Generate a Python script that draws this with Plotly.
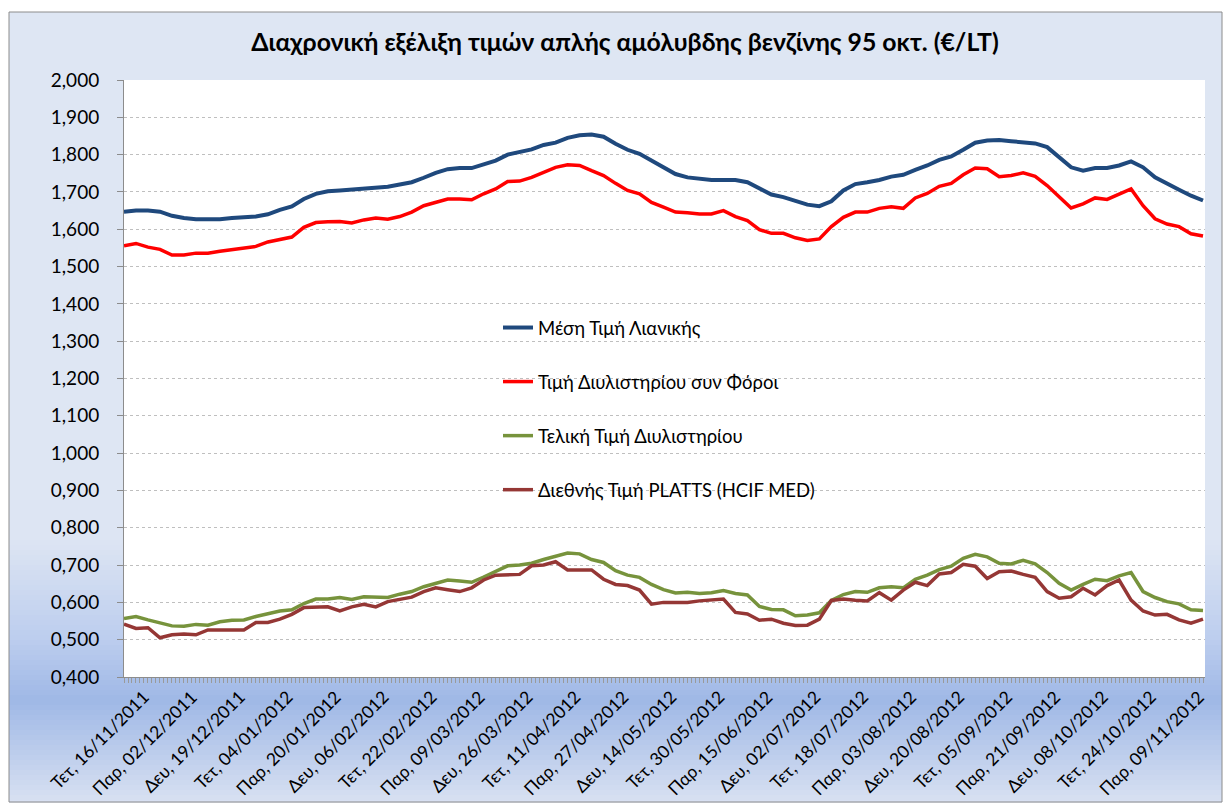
import plotly.graph_objects as go

# ---------------- data ----------------
# The chart has 271 daily categories (index 0 .. 270); a date label is shown every 12th one.
n_categories = 271
# values were read at every third category
sample_pos = list(range(0, n_categories, 3))

retail_avg = [1.647, 1.650, 1.650, 1.647, 1.636, 1.630, 1.627, 1.626, 1.627, 1.630, 1.633, 1.634, 1.640, 1.652, 1.661,
              1.681, 1.695, 1.702, 1.704, 1.707, 1.708, 1.713, 1.714, 1.720, 1.726, 1.738, 1.751, 1.761, 1.764, 1.764,
              1.775, 1.784, 1.800, 1.807, 1.814, 1.826, 1.832, 1.845, 1.852, 1.854, 1.848, 1.829, 1.813, 1.802, 1.784,
              1.766, 1.748, 1.739, 1.735, 1.732, 1.732, 1.732, 1.726, 1.708, 1.693, 1.686, 1.675, 1.666, 1.662, 1.675,
              1.704, 1.721, 1.726, 1.732, 1.741, 1.746, 1.759, 1.771, 1.786, 1.795, 1.813, 1.832, 1.838, 1.839, 1.836,
              1.832, 1.830, 1.820, 1.793, 1.766, 1.757, 1.764, 1.764, 1.771, 1.782, 1.766, 1.739, 1.721, 1.706, 1.690,
              1.677]
refinery_taxes = [1.556, 1.562, 1.552, 1.546, 1.531, 1.531, 1.536, 1.536, 1.541, 1.546, 1.549, 1.554, 1.566, 1.573, 1.579,
                  1.605, 1.618, 1.620, 1.621, 1.617, 1.625, 1.630, 1.627, 1.634, 1.646, 1.663, 1.672, 1.681, 1.681, 1.679,
                  1.695, 1.708, 1.728, 1.729, 1.739, 1.752, 1.766, 1.773, 1.771, 1.757, 1.744, 1.723, 1.704, 1.695, 1.672,
                  1.659, 1.646, 1.644, 1.641, 1.641, 1.650, 1.634, 1.623, 1.599, 1.589, 1.589, 1.577, 1.570, 1.574, 1.607,
                  1.632, 1.646, 1.646, 1.656, 1.660, 1.656, 1.684, 1.696, 1.715, 1.723, 1.746, 1.764, 1.762, 1.741, 1.744,
                  1.751, 1.742, 1.717, 1.688, 1.657, 1.668, 1.684, 1.680, 1.695, 1.708, 1.663, 1.628, 1.614, 1.607, 1.588,
                  1.582]
refinery_final = [0.557, 0.562, 0.553, 0.546, 0.537, 0.536, 0.541, 0.539, 0.548, 0.552, 0.553, 0.562, 0.570, 0.577, 0.580,
                  0.597, 0.609, 0.609, 0.613, 0.608, 0.615, 0.615, 0.613, 0.622, 0.629, 0.642, 0.652, 0.660, 0.657, 0.654,
                  0.668, 0.682, 0.698, 0.700, 0.705, 0.715, 0.724, 0.732, 0.730, 0.715, 0.707, 0.685, 0.673, 0.667, 0.648,
                  0.634, 0.625, 0.627, 0.624, 0.626, 0.632, 0.624, 0.620, 0.589, 0.581, 0.580, 0.564, 0.566, 0.572, 0.605,
                  0.621, 0.629, 0.627, 0.639, 0.642, 0.639, 0.662, 0.673, 0.688, 0.697, 0.718, 0.729, 0.722, 0.705, 0.703,
                  0.713, 0.703, 0.680, 0.651, 0.633, 0.648, 0.662, 0.658, 0.671, 0.680, 0.629, 0.613, 0.602, 0.596, 0.580,
                  0.578]
platts_intl = [0.542, 0.530, 0.532, 0.505, 0.513, 0.515, 0.513, 0.526, 0.526, 0.526, 0.526, 0.546, 0.546, 0.555, 0.568,
               0.586, 0.586, 0.588, 0.577, 0.588, 0.595, 0.588, 0.602, 0.609, 0.614, 0.629, 0.639, 0.634, 0.629, 0.639,
               0.660, 0.673, 0.673, 0.675, 0.698, 0.700, 0.709, 0.687, 0.687, 0.687, 0.662, 0.648, 0.645, 0.633, 0.595,
               0.600, 0.600, 0.600, 0.604, 0.606, 0.609, 0.573, 0.569, 0.552, 0.555, 0.544, 0.538, 0.539, 0.555, 0.605,
               0.609, 0.606, 0.604, 0.626, 0.606, 0.633, 0.654, 0.645, 0.676, 0.680, 0.702, 0.697, 0.664, 0.682, 0.684,
               0.675, 0.667, 0.629, 0.611, 0.615, 0.638, 0.620, 0.645, 0.660, 0.606, 0.577, 0.566, 0.568, 0.553, 0.544,
               0.555]

series_names = ["Μέση Τιμή Λιανικής", "Τιμή Διυλιστηρίου συν Φόροι",
                "Τελική Τιμή Διυλιστηρίου", "Διεθνής Τιμή PLATTS (HCIF MED)"]
series_values = [retail_avg, refinery_taxes, refinery_final, platts_intl]
series_colors = ["#1F497D", "#FF0000", "#77933C", "#953735"]

tick_pos = [0, 12, 24, 36, 48, 60, 72, 84, 96, 108, 120, 132, 144, 156, 168, 180, 192, 204, 216, 228, 240, 252, 264]
tick_labels = ["Τετ, 16/11/2011", "Παρ, 02/12/2011", "Δευ, 19/12/2011", "Τετ, 04/01/2012",
               "Παρ, 20/01/2012", "Δευ, 06/02/2012", "Τετ, 22/02/2012", "Παρ, 09/03/2012",
               "Δευ, 26/03/2012", "Τετ, 11/04/2012", "Παρ, 27/04/2012", "Δευ, 14/05/2012",
               "Τετ, 30/05/2012", "Παρ, 15/06/2012", "Δευ, 02/07/2012", "Τετ, 18/07/2012",
               "Παρ, 03/08/2012", "Δευ, 20/08/2012", "Τετ, 05/09/2012", "Παρ, 21/09/2012",
               "Δευ, 08/10/2012", "Τετ, 24/10/2012", "Παρ, 09/11/2012"]

title_text = "Διαχρονική εξέλιξη τιμών απλής αμόλυβδης βενζίνης 95 οκτ. (€/LT)"

# ---------------- layout geometry ----------------
OFF = 8                      # page body margin of the html page
W, H = 1216, 795             # figure size (page shows it at OFF, OFF)
SL, SR, ST, SB = 124, 1205, 80, 677   # plot area in screen pixels
FONT = "Lato, 'Open Sans', sans-serif"


def px_x(sx):
    return (sx - SL) / (SR - SL)


def px_y(sy):
    return (SB - sy) / (SB - ST)


fig = go.Figure()
for i, (name, vals, col) in enumerate(zip(series_names, series_values, series_colors)):
    fig.add_trace(go.Scatter(x=sample_pos, y=vals, name=name, mode="lines",
                             line=dict(color=col, width=4 if i == 0 else 3.5),
                             legendgroup=f"g{i}"))

# chart-area background gradient, drawn as thin horizontal bands
stops = [(12, (223, 230, 243)), (540, (221, 229, 243)), (640, (188, 205, 238)),
         (700, (159, 184, 230)), (805, (218, 226, 242))]


def colour_at(y):
    for (y0, c0), (y1, c1) in zip(stops[:-1], stops[1:]):
        if y0 <= y <= y1:
            t = (y - y0) / (y1 - y0)
            return "rgb(%d,%d,%d)" % tuple(round(a + (b - a) * t) for a, b in zip(c0, c1))
    return "rgb(%d,%d,%d)" % stops[-1][1]


FRAME_L, FRAME_R, FRAME_T, FRAME_B = 9, 1222, 12, OFF + H - 1
shapes = []
band_edges = [FRAME_T, 500] + list(range(505, FRAME_B, 5)) + [FRAME_B]
for y0, y1 in zip(band_edges[:-1], band_edges[1:]):
    shapes.append(dict(type="rect", xref="paper", yref="paper", layer="below",
                       x0=px_x(FRAME_L), x1=px_x(FRAME_R), y0=px_y(y1 + 0.5), y1=px_y(y0),
                       fillcolor=colour_at((y0 + y1) / 2), line=dict(width=0)))
shapes.append(dict(type="rect", xref="paper", yref="paper", layer="below",
                   x0=0, x1=1, y0=0, y1=1, fillcolor="white", line=dict(width=0)))
shapes.append(dict(type="rect", xref="paper", yref="paper", layer="below",
                   x0=px_x(FRAME_L), x1=px_x(FRAME_R), y0=px_y(FRAME_B), y1=px_y(FRAME_T),
                   fillcolor="rgba(0,0,0,0)", line=dict(color="#8C8C8C", width=1)))

fig.update_layout(
    width=W, height=H, autosize=False,
    margin=dict(l=SL - OFF, r=W - (SR - OFF), t=ST - OFF, b=H - (SB - OFF), pad=0, autoexpand=False),
    paper_bgcolor="white", plot_bgcolor="white",
    separators=",.",
    font=dict(family=FONT, size=18, color="#000000"),
    title=dict(text="<b>" + title_text + "</b>", x=(625 - OFF) / W, xanchor="center",
               y=1 - (42 - OFF) / H, yanchor="middle",
               font=dict(family=FONT, size=24.8, color="#000000")),
    showlegend=True,
    legend=dict(x=px_x(498), y=px_y(309), xanchor="left", yanchor="top",
                bgcolor="rgba(0,0,0,0)", tracegroupgap=27, itemwidth=30,
                font=dict(family=FONT, size=18.5, color="#000000")),
    xaxis=dict(type="linear", range=[0, n_categories - 0.5], automargin=False,
               tickmode="array", tickvals=tick_pos, ticktext=tick_labels,
               tickangle=-45, ticks="outside", ticklen=5, tickcolor="#9A9A9A",
               ticklabelshift=20, ticklabelstandoff=-3,
               minor=dict(ticks="outside", ticklen=5, tickcolor="#9A9A9A", dtick=1, tick0=0,
                          showgrid=False),
               showgrid=False, zeroline=False,
               showline=True, linecolor="#8C8C8C", linewidth=1,
               tickfont=dict(family=FONT, size=17.5, color="#000000")),
    yaxis=dict(range=[0.4, 2.0], dtick=0.1, tick0=0.4, tickformat=".3f", automargin=False,
               ticks="outside", ticklen=6, tickcolor="#8C8C8C", ticklabelstandoff=14,
               showline=True, linecolor="#8C8C8C", linewidth=1,
               showgrid=True, gridcolor="#BFBFBF", griddash="dot", gridwidth=1,
               zeroline=False, tickfont=dict(family=FONT, size=19, color="#000000")),
    shapes=shapes,
)

fig.write_html("out.html")
